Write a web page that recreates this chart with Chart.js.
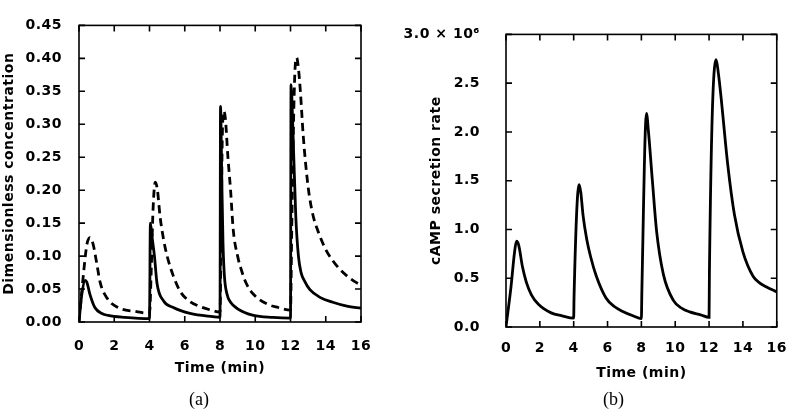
<!DOCTYPE html>
<html>
<head>
<meta charset="utf-8">
<script src="https://cdn.jsdelivr.net/npm/chart.js@4.4.0/dist/chart.umd.min.js"></script>
<style>
  html, body { margin: 0; padding: 0; background: #fff; }
  #wrap { position: relative; width: 800px; height: 413px; overflow: hidden; }
  canvas { position: absolute; top: 0; }
  #chartA { left: 0; }
  #chartB { left: 400px; }
  .cap { position: absolute; top: 389px; font-family: "Liberation Serif", serif; font-size: 18px; color: #000; }
</style>
</head>
<body>
<div id="wrap">
  <canvas id="chartA" width="400" height="413"></canvas>
  <canvas id="chartB" width="400" height="413"></canvas>
  <div class="cap" style="left:189px">(a)</div>
  <div class="cap" style="left:603px">(b)</div>
</div>
<script>
// tick labels
const timeTicks = [0, 2, 4, 6, 8, 10, 12, 14, 16];
const concTicks = [0, 0.05, 0.1, 0.15, 0.2, 0.25, 0.3, 0.35, 0.4, 0.45];
const rateTicks = [0, 0.5, 1, 1.5, 2, 2.5, 3];

// (a) solid curve
const tSolid = [0, 0.15, 0.35, 0.45, 0.62, 0.9, 1.3, 1.65, 2.6, 4.0,
  4.05, 4.15, 4.28, 4.43, 4.8, 5.35, 6.3, 7.6, 8.0,
  8.03, 8.1, 8.17, 8.25, 8.4, 8.6, 9.0, 9.9, 11.0, 12.0,
  12.03, 12.15, 12.3, 12.45, 12.6, 12.8, 13.1, 13.7, 14.4, 15.2, 16];
const solid = [0, 0.04, 0.063, 0.06, 0.042, 0.022, 0.013, 0.010, 0.007, 0.005,
  0.15, 0.128, 0.1, 0.058, 0.032, 0.022, 0.013, 0.008, 0.007,
  0.327, 0.22, 0.12, 0.07, 0.042, 0.03, 0.02, 0.01, 0.007, 0.006,
  0.36, 0.28, 0.16, 0.1, 0.075, 0.062, 0.049, 0.037, 0.03, 0.024, 0.021];

// (a) dashed curve
const tDashed = [0, 0.28, 0.45, 0.62, 0.8, 1.0, 1.2, 1.6, 2.2, 3.2, 4.0,
  4.1, 4.2, 4.33, 4.45, 4.6, 4.8, 5.0, 5.35, 5.75, 6.3, 6.9, 7.5, 8.0,
  8.07, 8.13, 8.2, 8.3, 8.45, 8.6, 8.75, 9.0, 9.2, 9.5, 9.9, 10.7, 11.3, 12.0,
  12.07, 12.17, 12.25, 12.35, 12.45, 12.56, 12.73, 13.0, 13.25, 13.6, 14.0, 14.4, 14.8, 15.2, 15.6, 16];
const dashed = [0, 0.08, 0.118, 0.128, 0.118, 0.09, 0.06, 0.036, 0.022, 0.016, 0.013,
  0.08, 0.17, 0.212, 0.2, 0.16, 0.125, 0.1, 0.07, 0.046, 0.031, 0.023, 0.018, 0.015,
  0.15, 0.28, 0.32, 0.31, 0.25, 0.2, 0.14, 0.1, 0.08, 0.058, 0.042, 0.027, 0.022, 0.018,
  0.14, 0.3, 0.38, 0.401, 0.385, 0.35, 0.28, 0.205, 0.165, 0.135, 0.11, 0.093, 0.08, 0.07, 0.062, 0.056];

// (b) cAMP secretion rate, in units of 10^6
const tRate = [0, 0.3, 0.5, 0.62, 0.75, 0.97, 1.2, 1.5, 1.93, 2.67, 3.3, 4.0,
  4.02, 4.32, 4.42, 4.55, 4.77, 5.0, 5.34, 5.9, 6.4, 6.9, 7.5, 8.0,
  8.03, 8.3, 8.42, 8.65, 8.9, 9.3, 9.9, 10.4, 10.85, 11.5, 12.0,
  12.02, 12.42, 12.55, 12.7, 13.1, 13.5, 14.0, 14.6, 15.0, 15.4, 16];
const rate = [0, 0.42, 0.76, 0.88, 0.84, 0.62, 0.46, 0.33, 0.23, 0.145, 0.115, 0.09,
  0.3, 1.46, 1.38, 1.15, 0.9, 0.72, 0.52, 0.3, 0.21, 0.16, 0.115, 0.085,
  0.38, 2.19, 2.0, 1.5, 0.98, 0.54, 0.27, 0.19, 0.155, 0.125, 0.1,
  0.55, 2.74, 2.6, 2.37, 1.67, 1.15, 0.77, 0.52, 0.45, 0.41, 0.36];

const toPoints = (xs, ys) => xs.map((x, i) => ({ x: x, y: ys[i] }));

const font = { family: 'DejaVu Sans', size: 14, weight: 'bold' };

// frame and inward ticks on all four sides
const framePlugin = {
  id: 'frame',
  beforeUpdate(chart) { chart.ctx.letterSpacing = '0.5px'; },
  beforeDraw(chart) { chart.ctx.letterSpacing = '0.5px'; },
  afterDraw(chart) {
    const ctx = chart.ctx;
    const a = chart.chartArea;
    const xs = chart.scales.x, ys = chart.scales.y;
    ctx.save();
    ctx.strokeStyle = '#000';
    ctx.lineWidth = 1.6;
    ctx.strokeRect(a.left, a.top, a.right - a.left, a.bottom - a.top);
    xs.ticks.forEach(t => {
      const px = xs.getPixelForValue(t.value);
      ctx.beginPath();
      ctx.moveTo(px, a.bottom); ctx.lineTo(px, a.bottom - 6);
      ctx.moveTo(px, a.top); ctx.lineTo(px, a.top + 6);
      ctx.stroke();
    });
    ys.ticks.forEach(t => {
      const py = ys.getPixelForValue(t.value);
      ctx.beginPath();
      ctx.moveTo(a.left, py); ctx.lineTo(a.left + 6, py);
      ctx.moveTo(a.right, py); ctx.lineTo(a.right - 6, py);
      ctx.stroke();
    });
    ctx.restore();
  }
};

function makeChart(id, datasets, opts) {
  return new Chart(document.getElementById(id), {
    type: 'line',
    data: { datasets: datasets },
    plugins: [framePlugin],
    options: {
      responsive: false,
      animation: false,
      devicePixelRatio: 1,
      layout: { padding: { left: 0, right: opts.padRight, top: opts.padTop, bottom: 0 } },
      plugins: { legend: { display: false }, tooltip: { enabled: false } },
      elements: { point: { radius: 0 }, line: { cubicInterpolationMode: 'monotone', borderCapStyle: 'butt' } },
      scales: {
        x: {
          type: 'linear', min: 0, max: 16,
          afterBuildTicks: s => { s.ticks = timeTicks.map(v => ({ value: v })); },
          afterFit: s => { s.height = opts.xHeight; },
          grid: { display: false, drawTicks: false },
          border: { display: false },
          ticks: { font: font, color: '#000', padding: opts.xTickPad, maxRotation: 0 },
          title: { display: true, text: 'Time (min)', font: font, color: '#000', padding: { top: 0, bottom: opts.xTitlePad } }
        },
        y: {
          type: 'linear', min: 0, max: opts.yMax,
          afterBuildTicks: s => { s.ticks = opts.yTicks.map(v => ({ value: v })); },
          afterFit: s => { s.width = opts.yWidth; },
          grid: { display: false, drawTicks: false },
          border: { display: false },
          ticks: { font: font, color: '#000', padding: opts.yTickPad, callback: opts.yLabel },
          title: { display: true, text: opts.yTitle, font: font, color: '#000', padding: { top: opts.yTitlePad, bottom: 0 } }
        }
      }
    }
  });
}

makeChart('chartA', [
  { data: toPoints(tSolid, solid), borderColor: '#000', borderWidth: 2.8 },
  { data: toPoints(tDashed, dashed), borderColor: '#000', borderWidth: 2.8, borderDash: [8, 5] }
], {
  padRight: 39, padTop: 10, xHeight: 91, yWidth: 79, yMax: 0.45, yTicks: concTicks,
  xTickPad: 16, xTitlePad: 36, yTickPad: 17, yTitlePad: 1,
  yTitle: 'Dimensionless concentration',
  yLabel: v => v.toFixed(2)
});

makeChart('chartB', [
  { data: toPoints(tRate, rate), borderColor: '#000', borderWidth: 2.8 }
], {
  padRight: 12, padTop: 14, xHeight: 86, yWidth: 106, yMax: 3, yTicks: rateTicks,
  xTickPad: 13, xTitlePad: 31, yTickPad: 26, yTitlePad: 28,
  yTitle: 'cAMP secretion rate',
  yLabel: v => v === 3 ? '3.0 × 10⁶' : v.toFixed(1)
});
</script>
</body>
</html>
